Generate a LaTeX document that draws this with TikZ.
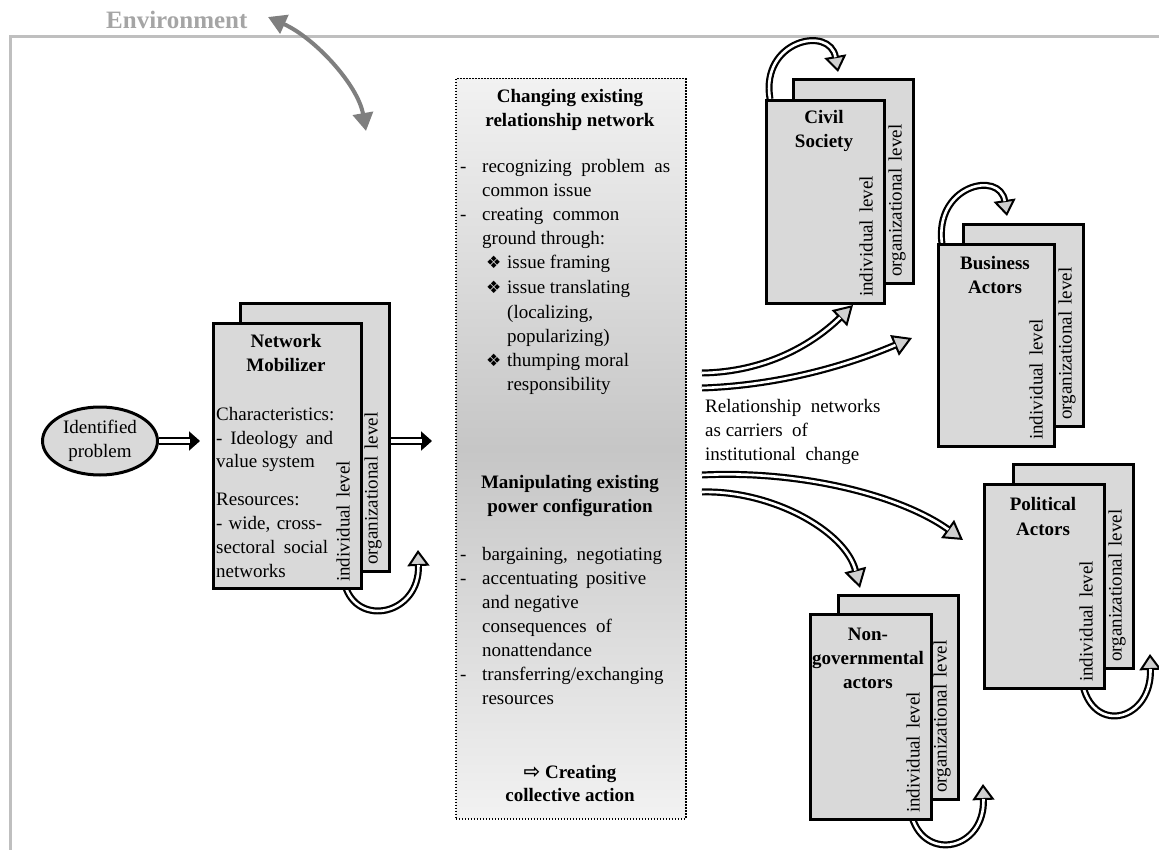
\documentclass[tikz,border=0pt]{standalone}
\usepackage{fontspec}
\setmainfont{Liberation Serif}
\newfontfamily\symfont{DejaVu Sans}
\usetikzlibrary{arrows.meta,shapes.geometric}
\definecolor{boxgray}{HTML}{D9D9D9}
\definecolor{envline}{HTML}{BFBFBF}
\definecolor{envtext}{HTML}{A5A5A5}
\definecolor{envarr}{HTML}{7F7F7F}
\definecolor{headgray}{HTML}{D0D0D0}
\definecolor{shadeA}{HTML}{F2F2F2}
\definecolor{shadeB}{HTML}{C6C6C6}
\newcommand\fsz{\fontsize{19}{24}\selectfont}
\newcommand\hollowarr[1]{\draw[hhead] #1; \draw[hshaft] #1;}
\newcommand\looparr[1]{\draw[lhead] #1; \draw[lshaft] #1;}
\newcommand\implarr[1]{\draw[ihead] #1; \draw[ishaft] #1;}
\newcommand\lv[1]{#1\hspace{7pt}level}
\tikzset{
  frameline/.style={draw=envline, line width=3pt},
  abox/.style={draw=black, fill=boxgray, line width=3pt, anchor=north west, inner sep=0pt},
  tl/.style={font=\fsz, inner sep=0pt, anchor=base west},
  tlc/.style={font=\fsz\bfseries, inner sep=0pt, anchor=base},
  vt/.style={font=\fsz, inner sep=0pt, rotate=90, anchor=base west},
  bul/.style={font=\symfont\fontsize{17}{24}\selectfont, inner sep=0pt, anchor=base west},
  ihead/.style={draw=black, line width=2pt, -{Triangle[length=11pt,width=19pt]}},
  ishaft/.style={draw=black, double=white, line width=2.5pt, double distance=3.5pt, shorten >=10pt},
  hhead/.style={draw=black, line width=2pt, -{Triangle[length=19pt,width=22pt,fill=headgray]}},
  hshaft/.style={draw=black, double=white, line width=2.2pt, double distance=2.6pt, shorten >=18pt},
  lhead/.style={draw=black, line width=2pt, -{Triangle[length=16pt,width=22pt,fill=headgray]}},
  lshaft/.style={draw=black, double=white, line width=2.2pt, double distance=2.6pt, shorten >=15pt},
  envarrow/.style={draw=envarr, line width=4pt, {Triangle[length=18pt,width=20pt]}-{Triangle[length=18pt,width=20pt]}},
}
\begin{document}
\begin{tikzpicture}[x=1pt,y=-1pt]
\useasboundingbox (0,0) rectangle (1159,850);
% environment frame
\draw[frameline] (1159,37) -- (10,37) -- (10,850);
\node[font=\fontsize{25}{28}\selectfont\bfseries, text=envtext, inner sep=0pt, anchor=base west] (env) at (106,29) {Environment};
\coordinate (envA) at (268,17);
\coordinate (envB) at (366,131);
\draw[envarrow] (envA) .. controls (315,38) and (358,85) .. (envB);

% central box
\node[draw=black, line width=1.5pt, dash pattern=on 1.5pt off 1.5pt, anchor=north west, inner sep=0pt,
      minimum width=230pt, minimum height=740pt, top color=shadeA, bottom color=shadeA, middle color=shadeB] (cbox) at (455,78) {};

% relationship arrows
\coordinate (r1s) at (702,373); \coordinate (r1e) at (853,305);
\coordinate (r2s) at (702,388); \coordinate (r2e) at (912,338);
\coordinate (r3s) at (702,475); \coordinate (r3e) at (963,540);
\coordinate (r4s) at (702,492); \coordinate (r4e) at (860,588);
\hollowarr{(r1s) .. controls (765,372) and (812,345) .. (r1e)}
\hollowarr{(r2s) .. controls (790,385) and (860,360) .. (r2e)}
\hollowarr{(r3s) .. controls (800,470) and (900,495) .. (r3e)}
\hollowarr{(r4s) .. controls (770,490) and (845,530) .. (r4e)}

% loops
\coordinate (mlA) at (345,585); \coordinate (mlB) at (418,550);
\coordinate (clA) at (770,99); \coordinate (clB) at (838,72);
\coordinate (blA) at (942,244); \coordinate (blB) at (1007,216);
\coordinate (plA) at (1083,686); \coordinate (plB) at (1150,654);
\coordinate (nlA) at (912,817); \coordinate (nlB) at (983,784);
\looparr{(mlA) .. controls (357,628) and (420,615) .. (mlB)}
\looparr{(clA) .. controls (760,40) and (830,25) .. (clB)}
\looparr{(blA) .. controls (934,185) and (1000,170) .. (blB)}
\looparr{(plA) .. controls (1095,735) and (1152,720) .. (plB)}
\looparr{(nlA) .. controls (925,862) and (985,850) .. (nlB)}

% identified problem
\node[ellipse, draw=black, line width=3pt, fill=boxgray, minimum width=115pt, minimum height=68pt,
      inner sep=0pt, align=center, font=\fsz] (prob) at (100,441) {Identified\\problem};

% network mobilizer
\node[abox, minimum width=149pt, minimum height=268pt] (mobB) at (239,302) {};
\node[abox, minimum width=148pt, minimum height=265pt] (mobF) at (212,322) {};
\node[tlc] (mobT1) at (286,347) {Network};
\node[tlc] (mobT2) at (286,371) {Mobilizer};
\node[tl] (mc1) at (216,420) {Characteristics:};
\node[tl] (mc2) at (216,444) {\makebox[117pt][s]{- Ideology and}};
\node[tl] (mc3) at (216,467) {value system};
\node[tl] (mc4) at (216,505) {Resources:};
\node[tl] (mc5) at (216,529) {\makebox[106pt][s]{- wide, cross-}};
\node[tl] (mc6) at (216,553) {\makebox[112pt][s]{sectoral social}};
\node[tl] (mc7) at (216,577) {networks};
\node[vt] (mobI) at (349.5,582) {\lv{individual}};
\node[vt] (mobO) at (377.5,565) {\lv{organizational}};

\implarr{(prob.east) -- ([xshift=-12pt]prob.east -| mobF.west)}
\implarr{(prob.east -| mobB.east) -- ([xshift=-23pt]prob.east -| cbox.west)}

% central texts
\node[tlc] (c1) at (570,103) {Changing existing};
\node[tlc] (c2) at (570,127) {relationship network};
\node[tl] (d1) at (460,173) {-};
\node[tl] (t1) at (482,173) {\makebox[188pt][s]{recognizing problem as}};
\node[tl] (t2) at (482,197) {common issue};
\node[tl] (d2) at (460,221) {-};
\node[tl] (t3) at (482,221) {creating\ \ common};
\node[tl] (t4) at (482,245) {ground through:};
\node[bul] (b1) at (486,269) {❖};
\node[tl] (t5) at (507,269) {issue framing};
\node[bul] (b2) at (486,294) {❖};
\node[tl] (t6) at (507,294) {issue translating};
\node[tl] (t7) at (507,318) {(localizing,};
\node[tl] (t8) at (507,342) {popularizing)};
\node[bul] (b3) at (486,366) {❖};
\node[tl] (t9) at (507,366) {thumping moral};
\node[tl] (t10) at (507,390) {responsibility};

\node[tlc] (m1) at (570,488) {Manipulating existing};
\node[tlc] (m2) at (570,512) {power configuration};
\node[tl] (d3) at (460,560) {-};
\node[tl] (u1) at (482,560) {\makebox[180pt][s]{bargaining, negotiating}};
\node[tl] (d4) at (460,584) {-};
\node[tl] (u2) at (482,584) {\makebox[164pt][s]{accentuating positive}};
\node[tl] (u3) at (482,608) {and negative};
\node[tl] (u4) at (482,632) {consequences\ \ of};
\node[tl] (u5) at (482,656) {nonattendance};
\node[tl] (d5) at (460,680) {-};
\node[tl] (u6) at (482,680) {transferring/exchanging};
\node[tl] (u7) at (482,704) {resources};
\node[tlc] (k1) at (570,778) {{\symfont\fontsize{20}{20}\selectfont ⇨}\ Creating};
\node[tlc] (k2) at (570,801) {collective action};

% caption
\node[tl] (cap1) at (705,412) {Relationship\ \ networks};
\node[tl] (cap2) at (705,436) {as carriers\ \ of};
\node[tl] (cap3) at (705,460) {institutional\ \ change};

% civil society
\node[abox, minimum width=120pt, minimum height=204pt] (civB) at (792,78) {};
\node[abox, minimum width=118pt, minimum height=203pt] (civF) at (765,99) {};
\node[tlc] (civT1) at (824,124) {Civil};
\node[tlc] (civT2) at (824,148) {Society};
\node[vt] (civI) at (872.5,297) {\lv{individual}};
\node[vt] (civO) at (901.5,277) {\lv{organizational}};

% business actors
\node[abox, minimum width=120pt, minimum height=202pt] (busB) at (962,223) {};
\node[abox, minimum width=116pt, minimum height=202pt] (busF) at (937,243) {};
\node[tlc] (busT1) at (995,270) {Business};
\node[tlc] (busT2) at (995,294) {Actors};
\node[vt] (busI) at (1042.5,440) {\lv{individual}};
\node[vt] (busO) at (1071.5,420) {\lv{organizational}};

% political actors
\node[abox, minimum width=120pt, minimum height=204pt] (polB) at (1012,463) {};
\node[abox, minimum width=120pt, minimum height=204pt] (polF) at (983,483) {};
\node[tlc] (polT1) at (1043,510) {Political};
\node[tlc] (polT2) at (1043,535) {Actors};
\node[vt] (polI) at (1092.5,682) {\lv{individual}};
\node[vt] (polO) at (1121.5,662) {\lv{organizational}};

% non-governmental actors
\node[abox, minimum width=120pt, minimum height=204pt] (ngoB) at (837,594) {};
\node[abox, minimum width=121pt, minimum height=205pt] (ngoF) at (809,613) {};
\node[tlc] (ngoT1) at (868,640) {Non-};
\node[tlc] (ngoT2) at (868,664) {governmental};
\node[tlc] (ngoT3) at (868,688) {actors};
\node[vt] (ngoI) at (919.5,813) {\lv{individual}};
\node[vt] (ngoO) at (946.5,793) {\lv{organizational}};
\end{tikzpicture}
\end{document}
